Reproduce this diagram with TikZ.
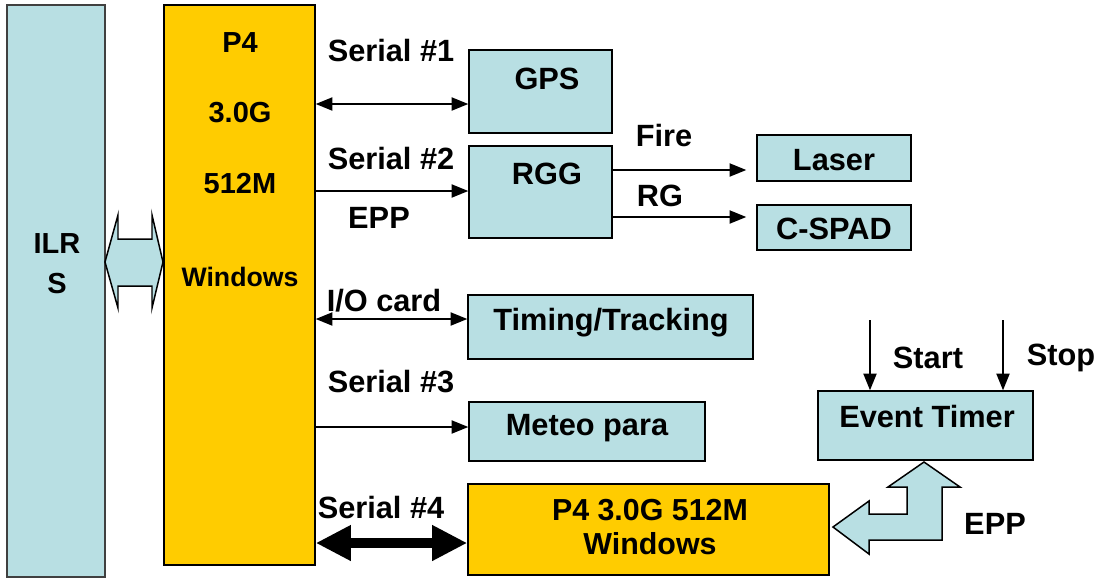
\documentclass[tikz,border=0pt]{standalone}
\usepackage{fontspec}
\setmainfont{Liberation Sans}
\usetikzlibrary{arrows.meta}
\definecolor{boxblue}{RGB}{184,223,227}
\definecolor{boxgold}{RGB}{255,204,0}
\tikzset{
  bluebox/.style={draw=black, fill=boxblue, line width=0.85pt, inner sep=0pt},
  goldbox/.style={draw=black, fill=boxgold, line width=0.85pt, inner sep=0pt},
  lbl/.style={font=\fontsize{17.5}{20}\selectfont\bfseries, inner sep=0pt, align=center},
  pclbl/.style={lbl, font=\fontsize{16.5}{19}\selectfont\bfseries},
  conn/.style={line width=0.85pt, -{Triangle[length=9.5pt, width=7.5pt]}},
  biconn/.style={line width=0.85pt, {Triangle[length=9.5pt, width=7.5pt]}-{Triangle[length=9.5pt, width=7.5pt]}},
  fatconn/.style={line width=5.7pt, {Triangle[length=20pt, width=19pt]}-{Triangle[length=20pt, width=19pt]}},
  blockarrow/.style={draw=black, fill=boxblue, line width=0.85pt, line join=miter}
}
\begin{document}
\begin{tikzpicture}[x=0.02cm, y=-0.02cm]
  \useasboundingbox (0,0) rectangle (1100,579);
  % boxes
  \node[bluebox, draw=black!75, minimum width=1.96cm, minimum height=11.44cm] (ilrs) at (56,291) {};
  \node[goldbox, minimum width=3.02cm, minimum height=11.2cm] (pc) at (239.5,285) {};
  \node[bluebox, minimum width=2.86cm, minimum height=1.66cm] (gps) at (540.5,91.5) {};
  \node[bluebox, minimum width=2.86cm, minimum height=1.84cm] (rgg) at (540.5,192) {};
  \node[bluebox, minimum width=3.08cm, minimum height=0.92cm] (laser) at (834,158) {};
  \node[bluebox, minimum width=3.08cm, minimum height=0.9cm] (cspad) at (834,227.5) {};
  \node[bluebox, minimum width=5.7cm, minimum height=1.28cm] (timing) at (610.5,327) {};
  \node[bluebox, minimum width=4.72cm, minimum height=1.18cm] (meteo) at (587,431.5) {};
  \node[bluebox, minimum width=4.3cm, minimum height=1.38cm] (timer) at (925.5,425.5) {};
  \node[goldbox, minimum width=7.22cm, minimum height=1.82cm] (pcb) at (648.5,529.5) {};
  % box texts
  \node[pclbl, font=\fontsize{16.5}{22.7}\selectfont\bfseries] (ilrst) at (57,264) {ILR\\S};
  \node[pclbl] (pca) at (240,43) {P4};
  \node[pclbl] (pcb1) at (240,113) {3.0G};
  \node[pclbl] (pcc) at (240,184) {512M};
  \node[pclbl, font=\fontsize{15.2}{18}\selectfont\bfseries] (pcd) at (240,277) {Windows};
  \node[lbl] (gpst) at (547,79) {GPS};
  \node[lbl] (rggt) at (547,174) {RGG};
  \node[lbl] (lasert) at (834,160) {Laser};
  \node[lbl] (cspadt) at (834,229) {C-SPAD};
  \node[lbl] (timingt) at (611,323) {Timing/Tracking};
  \node[lbl] (meteot) at (587,428) {Meteo para};
  \node[lbl] (timert) at (927,417) {Event Timer};
  \node[lbl, font=\fontsize{17.3}{19.8}\selectfont\bfseries] (pcbt) at (650,527) {P4 3.0G 512M\\Windows};
  % link labels
  \node[lbl] (s1) at (391,51) {Serial \#1};
  \node[lbl] (s2) at (391,159) {Serial \#2};
  \node[lbl] (epp1) at (379,218) {EPP};
  \node[lbl] (fire) at (664,136) {Fire};
  \node[lbl] (rg) at (660,196) {RG};
  \node[lbl] (io) at (384,301) {I/O card};
  \node[lbl] (s3) at (391,382) {Serial \#3};
  \node[lbl] (s4) at (381,508) {Serial \#4};
  \node[lbl] (start) at (928,358) {Start};
  \node[lbl] (stop) at (1061,358) {Stop};
  \node[lbl] (epp2) at (995,524) {EPP};
  \coordinate (startin) at (870,320);
  \coordinate (stopin) at (1003,320);
  % connectors
  \begin{scope}
    \draw[biconn] (pc.east |- 0,104) -- (gps.west |- 0,104);
    \draw[conn] (pc.east |- 0,191) -- (rgg.west |- 0,191);
    \draw[biconn] (pc.east |- 0,319) -- (timing.west |- 0,319);
    \draw[conn] (pc.east |- 0,427) -- (meteo.west |- 0,427);
    \draw[fatconn] (pc.east |- 0,543) -- (pcb.west |- 0,543);
    \draw[conn, shorten >=5.7pt] (rgg.east |- 0,170) -- (laser.west |- 0,170);
    \draw[conn, shorten >=5.7pt] (rgg.east |- 0,217) -- (cspad.west |- 0,217);
    \draw[conn] (startin) -- (startin |- timer.north);
    \draw[conn] (stopin) -- (stopin |- timer.north);
  \end{scope}
  % block arrows
  \draw[blockarrow] (105,262) -- (118,215) -- (118,239) -- (152,239) -- (152,215)
    -- (163,262) -- (152,308) -- (152,286) -- (118,286) -- (118,308) -- cycle;
  \draw[blockarrow] (833,527) -- (869,501) -- (869,514) -- (907,514) -- (907,487)
    -- (888,487) -- (924,462) -- (960,487) -- (942,487) -- (942,540) -- (869,540)
    -- (869,554) -- cycle;
\end{tikzpicture}
\end{document}
